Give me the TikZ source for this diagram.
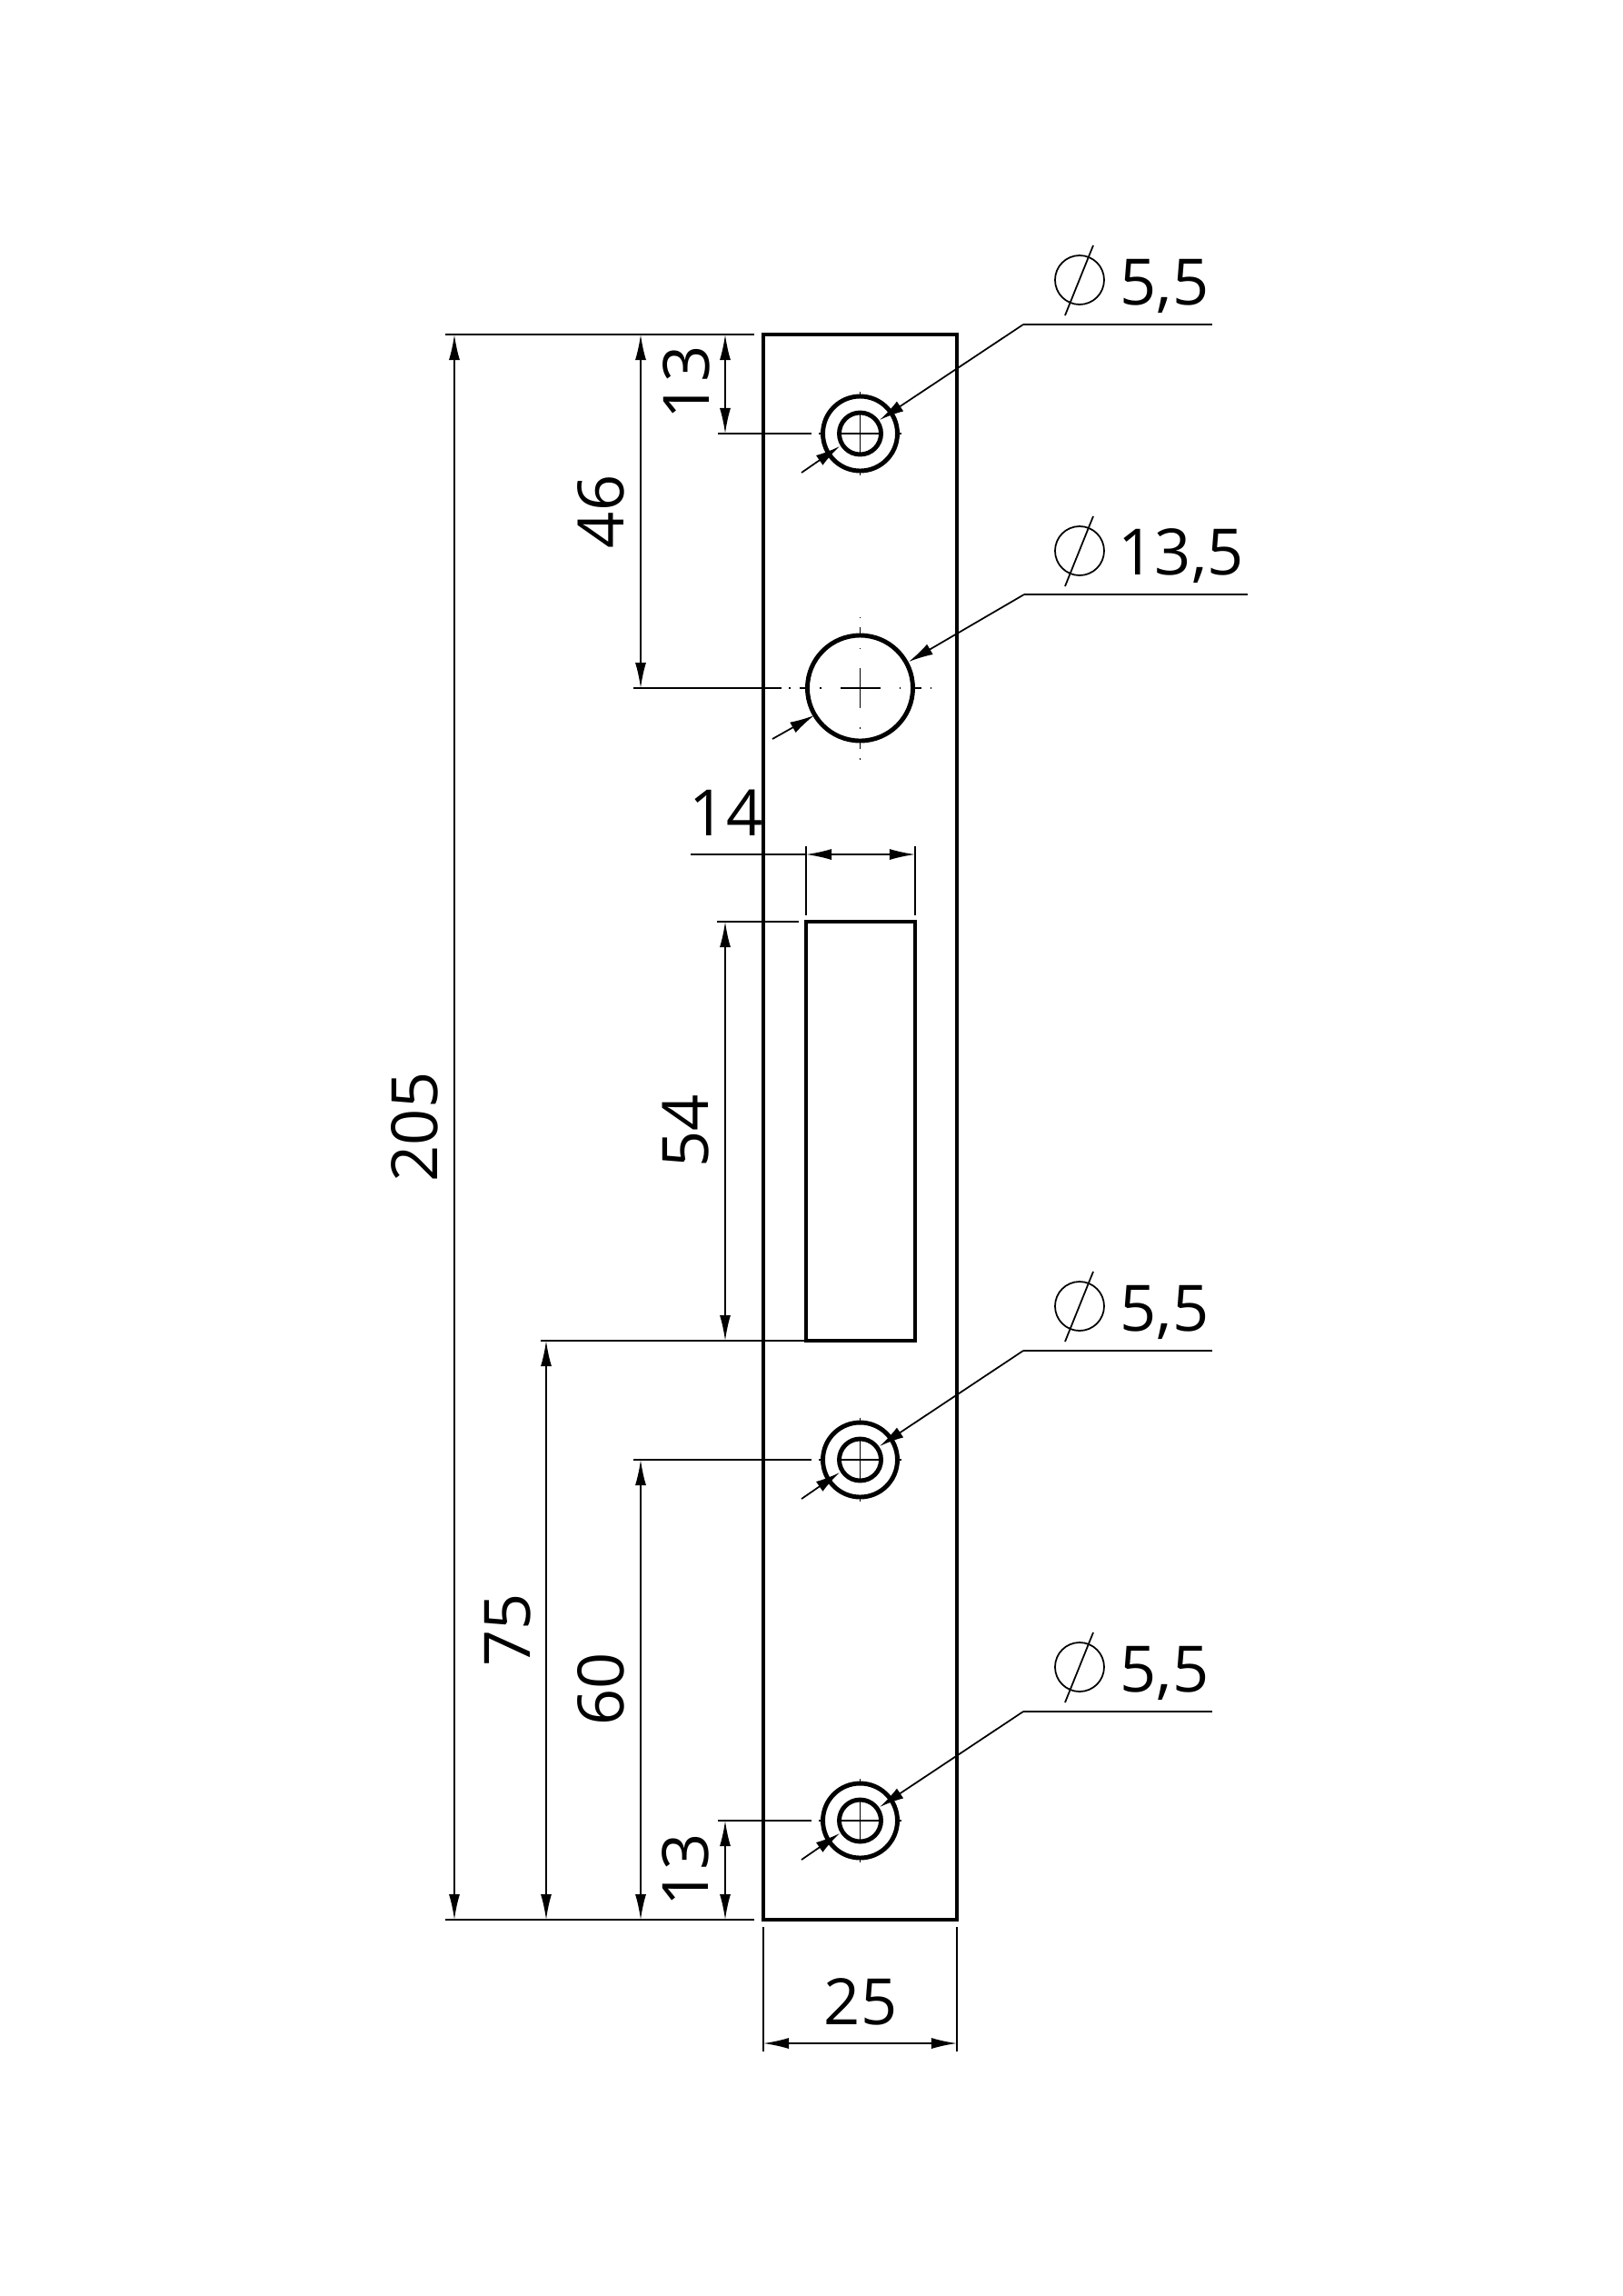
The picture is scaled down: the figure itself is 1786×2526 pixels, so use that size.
\documentclass[tikz,border=0pt]{standalone}
\usepackage{fontspec}
\setmainfont{Open Sans}
\usetikzlibrary{arrows.meta}
\tikzset{
  outline/.style={line width=1.4pt},
  thinline/.style={line width=0.5pt},
  dimline/.style={thinline,{Latex[length=2.8mm,width=1.2mm]}-{Latex[length=2.8mm,width=1.2mm]}},
  leader/.style={thinline,-{Latex[length=2.7mm,width=1.3mm]}},
  lbl/.style={inner sep=0pt,font=\fontsize{20}{20}\selectfont},
}
\newcommand{\diam}[2]{% diameter sign centred at #1,#2
  \draw [thinline] (#1,#2) circle (27);
  \draw [thinline] (#1-16,#2+39) -- (#1+15,#2-38);
}
\begin{document}
\begin{tikzpicture}[x=0.01cm,y=-0.01cm]
\useasboundingbox (0,0) rectangle (1786,2526);
% plate and slot
\draw [outline] (840,368) rectangle (1053,2112);
\draw [outline] (887,1014) rectangle (1007,1475);
% small holes
\foreach \y/\name in {477/a,1606/c,2003/d}{
  \draw [outline] (946.5,\y) circle (41);
  \draw [outline] (946.5,\y) circle (23);
  \draw [thinline] (901,\y) -- (905,\y) (988,\y) -- (992,\y) (923,\y) -- (970,\y);
  \draw [thinline] (946.5,\y-46) -- (946.5,\y-41) (946.5,\y+41) -- (946.5,\y+46) (946.5,\y-23) -- (946.5,\y+23);
  \draw [thinline] (790,\y) -- (893,\y);
  \draw [thinline] (1334,\y-120) -- (1126,\y-120) coordinate (corner\name);
  \diam{1188}{\y-169}
  \node [lbl,anchor=base west] (txt\name) at (1232,\y-142) {5,5};
  \draw [leader] (corner\name) -- (968,\y-15);
  \draw [leader] (882,\y+43) -- (924,\y+14);
}
% large hole
\draw [outline] (946.5,757) circle (58);
\foreach \a in {0,90,180,270}{
  \draw [thinline,shift={(946.5,757)},rotate=\a] (0,0) -- (22,0) (43,0) -- (44.5,0) (58,0) -- (67,0) (77,0) -- (78.5,0);
}
\draw [thinline] (1373,654) -- (1127,654) coordinate (cornerb);
\draw [leader] (cornerb) -- (1000,728);
\draw [leader] (850,813) -- (896,787);
\diam{1188}{606}
\node [lbl,anchor=base west] (txtb) at (1230,632) {13,5};
% extension lines
\draw [thinline] (490,368) -- (830,368);
\draw [thinline] (490,2112) -- (830,2112);
\draw [thinline] (697,757) -- (860,757);
\draw [thinline] (595,1475) -- (887,1475);
\draw [thinline] (789,1014) -- (879,1014);
\draw [thinline] (697,1606) -- (790,1606);
\draw [thinline] (887,931) -- (887,1007);
\draw [thinline] (1007,931) -- (1007,1007);
\draw [thinline] (760,940) -- (887,940);
\draw [thinline] (840,2120) -- (840,2257);
\draw [thinline] (1053,2120) -- (1053,2257);
% dimension lines
\draw [dimline] (500,368) -- (500,2112);
\draw [dimline] (705,368) -- (705,757);
\draw [dimline] (798,368) -- (798,477);
\draw [dimline] (887,940) -- (1007,940);
\draw [dimline] (798,1014) -- (798,1475);
\draw [dimline] (601,1475) -- (601,2112);
\draw [dimline] (705,1606) -- (705,2112);
\draw [dimline] (798,2003) -- (798,2112);
\draw [dimline] (840,2248) -- (1053,2248);
% labels
\node [lbl,rotate=90] (l205) at (456,1240) {205};
\node [lbl,rotate=90] (l46) at (661,563) {46};
\node [lbl,rotate=90] (l13a) at (755,421) {13};
\node [lbl,anchor=base east] (l14) at (840,919) {14};
\node [lbl,rotate=90] (l54) at (755,1244) {54};
\node [lbl,rotate=90] (l75) at (559,1793) {75};
\node [lbl,rotate=90] (l60) at (661,1858) {60};
\node [lbl,rotate=90] (l13b) at (754,2057) {13};
\node [lbl,anchor=base] (l25) at (947,2227) {25};
\end{tikzpicture}
\end{document}
